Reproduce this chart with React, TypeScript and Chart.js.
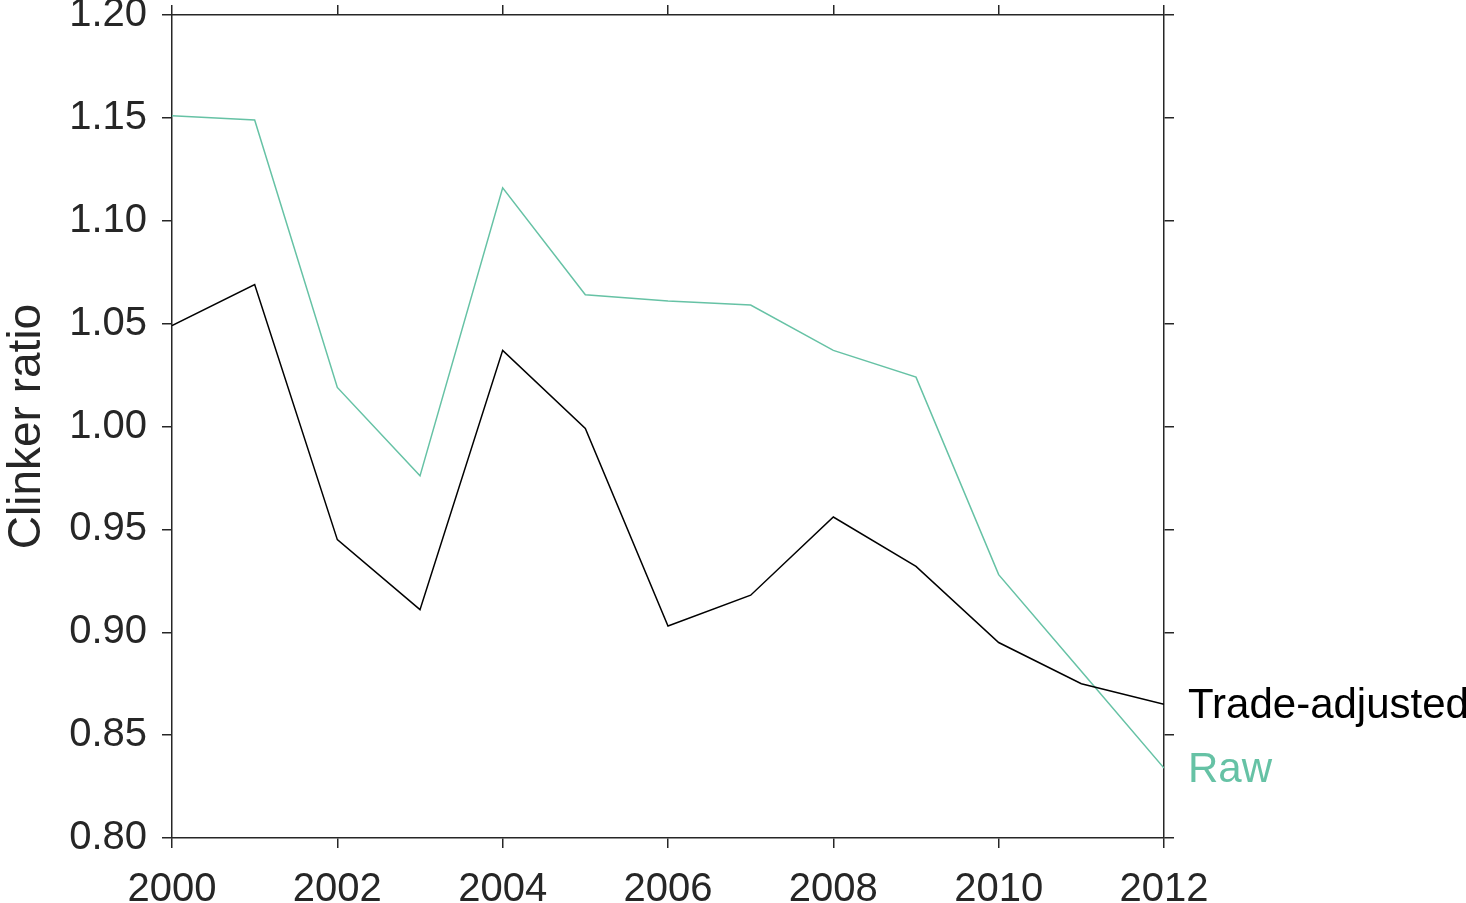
import React, { useEffect, useRef } from "react";
import { Chart, registerables } from "chart.js";

Chart.register(...registerables);

const years = [2000, 2001, 2002, 2003, 2004, 2005, 2006, 2007, 2008, 2009, 2010, 2011, 2012];
const tradeAdjusted = [1.049, 1.069, 0.945, 0.911, 1.037, 0.999, 0.903, 0.918, 0.956, 0.932, 0.895, 0.875, 0.865];
const raw = [1.151, 1.149, 1.019, 0.976, 1.116, 1.064, 1.061, 1.059, 1.037, 1.024, 0.928, 0.881, 0.834];
const seriesNames = ["Trade-adjusted", "Raw"];
const seriesColors = ["#000000", "#66c2a5"];
const yTitle = "Clinker ratio";

const FONT = "'Liberation Sans', Arial, Helvetica, sans-serif";
const AXIS = "#262626";

const endLabels = {
  id: "endLabels",
  afterDraw(chart: any) {
    const ctx = chart.ctx;
    const area = chart.chartArea;
    const ys = chart.scales.y;
    ctx.save();
    ctx.font = `42px ${FONT}`;
    ctx.textAlign = "left";
    ctx.textBaseline = "alphabetic";
    chart.data.datasets.forEach((ds: any, i: number) => {
      const last = ds.data[ds.data.length - 1];
      const py = ys.getPixelForValue(last.y);
      ctx.fillStyle = seriesColors[i];
      ctx.fillText(seriesNames[i], area.right + 24, py + 14);
    });
    ctx.restore();
  },
};

export default function App() {
  const ref = useRef<HTMLCanvasElement | null>(null);
  useEffect(() => {
    if (!ref.current) return;
    const mk = (vals: number[]) => years.map((x, i) => ({ x, y: vals[i] }));
    const tickGrid = {
      drawOnChartArea: false,
      drawTicks: true,
      tickLength: 10,
      color: AXIS,
      lineWidth: 1.5,
    };
    const border = { display: true, color: AXIS, width: 1.5 };
    const noPad = (s: any) => {
      s.paddingTop = 0;
      s.paddingBottom = 0;
      s.paddingLeft = 0;
      s.paddingRight = 0;
    };
    const chart = new Chart(ref.current, {
      type: "line",
      data: {
        datasets: [
          {
            label: seriesNames[0],
            data: mk(tradeAdjusted),
            borderColor: seriesColors[0],
            borderWidth: 1.5,
            pointRadius: 0,
            tension: 0,
            fill: false,
          },
          {
            label: seriesNames[1],
            data: mk(raw),
            borderColor: seriesColors[1],
            borderWidth: 1.5,
            pointRadius: 0,
            tension: 0,
            fill: false,
          },
        ],
      },
      options: {
        animation: false,
        responsive: false,
        maintainAspectRatio: false,
        layout: { padding: 0 },
        plugins: { legend: { display: false }, tooltip: { enabled: false } },
        scales: {
          x: {
            type: "linear",
            position: "bottom",
            min: 2000,
            max: 2012,
            grid: tickGrid,
            border,
            ticks: {
              stepSize: 2,
              color: AXIS,
              font: { family: FONT, size: 40 },
              padding: 18,
              maxRotation: 0,
              callback: (v: any) => String(v),
            },
            afterFit: (s: any) => {
              s.height = 903 - 838;
              noPad(s);
            },
          },
          x2: {
            type: "linear",
            position: "top",
            min: 2000,
            max: 2012,
            grid: tickGrid,
            border,
            ticks: { stepSize: 2, display: false },
            afterFit: (s: any) => {
              s.height = 15;
              noPad(s);
            },
          },
          y: {
            type: "linear",
            position: "left",
            min: 0.8,
            max: 1.2,
            grid: tickGrid,
            border,
            title: {
              display: true,
              text: yTitle,
              color: AXIS,
              font: { family: FONT, size: 46 },
              padding: 0,
            },
            ticks: {
              stepSize: 0.05,
              color: AXIS,
              font: { family: FONT, size: 40 },
              padding: 15,
              callback: (v: any) => Number(v).toFixed(2),
            },
            afterFit: (s: any) => {
              s.width = 172;
              noPad(s);
            },
          },
          y2: {
            type: "linear",
            position: "right",
            min: 0.8,
            max: 1.2,
            grid: tickGrid,
            border,
            ticks: { stepSize: 0.05, display: false },
            afterFit: (s: any) => {
              s.width = 1466 - 1164;
              noPad(s);
            },
          },
        },
      },
      plugins: [endLabels],
    } as any);
    return () => chart.destroy();
  }, []);
  return (
    <div style={{ position: "fixed", left: 0, top: 0, width: 1466, height: 903, background: "#fff" }}>
      <canvas ref={ref} width={1466} height={903} style={{ width: 1466, height: 903, display: "block" }} />
    </div>
  );
}
